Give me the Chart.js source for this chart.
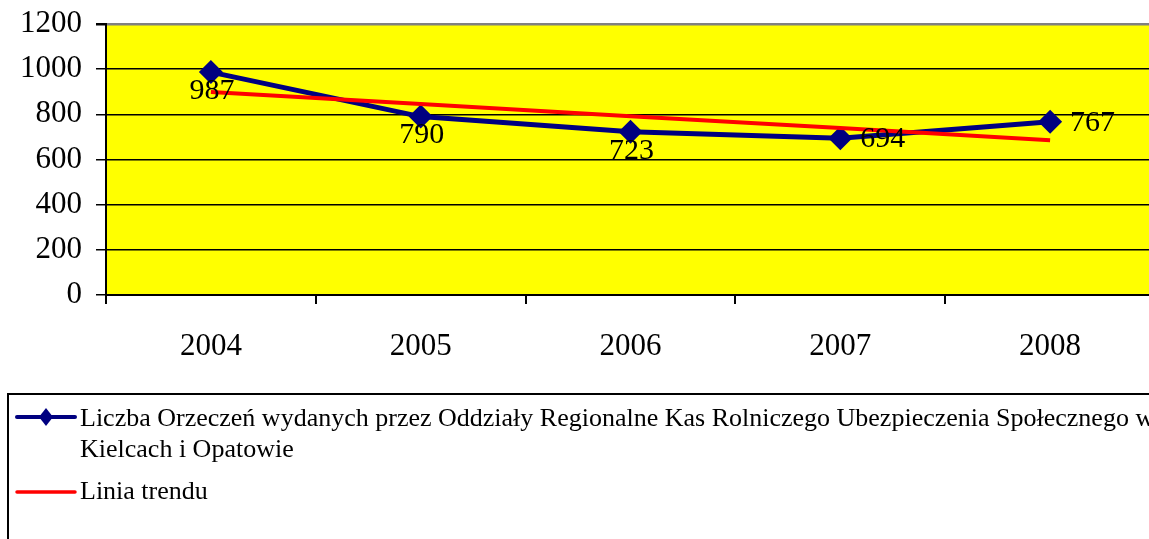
<!DOCTYPE html>
<html>
<head>
<meta charset="utf-8">
<script src="https://cdn.jsdelivr.net/npm/chart.js@4.4.1/dist/chart.umd.min.js"></script>
<style>
html, body { margin: 0; padding: 0; background: #fff; overflow: hidden; }
#wrap { width: 1167px; height: 539px; }
</style>
</head>
<body>
<div id="wrap"><canvas id="chart" width="1167" height="539"></canvas></div>
<script>
'use strict';
// data
var years = ['2004', '2005', '2006', '2007', '2008'];
var orzeczenia = [987, 790, 723, 694, 767];
var trendValues = [899, 846, 792, 739, 685];
var yMin = 0;
var yMax = 1200;
var yStep = 200;
var seriesName = 'Liczba Orzeczeń wydanych przez Oddziały Regionalne Kas Rolniczego Ubezpieczenia Społecznego w Kielcach i Opatowie';
var trendName = 'Linia trendu';
var legendLines = [
  ['Liczba Orzeczeń wydanych przez Oddziały Regionalne Kas Rolniczego Ubezpieczenia Społecznego w', 'Kielcach i Opatowie'],
  ['Linia trendu']
];

var serif = '"Liberation Serif", "Times New Roman", serif';
var navy = '#000080';

// yellow plot area
var plotBg = {
  id: 'plotBg',
  beforeDraw: function (chart) {
    var a = chart.chartArea;
    var ctx = chart.ctx;
    ctx.save();
    ctx.fillStyle = '#ffff00';
    ctx.fillRect(a.left, a.top, a.right - a.left, a.bottom - a.top);
    ctx.restore();
  }
};

// value labels next to the points
var valueLabels = {
  id: 'valueLabels',
  afterDatasetsDraw: function (chart, args, opts) {
    var ctx = chart.ctx;
    var meta = chart.getDatasetMeta(0);
    var values = chart.data.datasets[0].data;
    ctx.save();
    ctx.font = '30px ' + serif;
    ctx.fillStyle = '#000';
    ctx.textBaseline = 'middle';
    meta.data.forEach(function (pt, i) {
      var where = opts.place[i];
      if (where === 'right') {
        ctx.textAlign = 'left';
        ctx.fillText(values[i], pt.x + 20, pt.y + 1);
      } else {
        ctx.textAlign = 'center';
        ctx.fillText(values[i], pt.x + 1, pt.y + 19);
      }
    });
    ctx.restore();
  }
};

// boxed legend under the chart, like the original
var boxLegend = {
  id: 'boxLegend',
  afterDraw: function (chart) {
    var ctx = chart.ctx;
    ctx.save();
    ctx.strokeStyle = '#000';
    ctx.lineWidth = 2;
    ctx.strokeRect(8, 394, 1200, 200);

    ctx.font = '26px ' + serif;
    ctx.fillStyle = '#000';
    ctx.textAlign = 'left';
    ctx.textBaseline = 'alphabetic';
    ctx.fillText(legendLines[0][0], 80, 426);
    ctx.fillText(legendLines[0][1], 80, 457);
    ctx.fillText(legendLines[1][0], 80, 499);

    // navy symbol
    ctx.strokeStyle = navy;
    ctx.lineWidth = 4;
    ctx.lineCap = 'round';
    ctx.beginPath();
    ctx.moveTo(17, 417);
    ctx.lineTo(75, 417);
    ctx.stroke();
    ctx.fillStyle = navy;
    ctx.beginPath();
    ctx.moveTo(46, 408);
    ctx.lineTo(53, 417);
    ctx.lineTo(46, 426);
    ctx.lineTo(39, 417);
    ctx.closePath();
    ctx.fill();

    // red symbol
    ctx.strokeStyle = '#ff0000';
    ctx.lineWidth = 3.5;
    ctx.beginPath();
    ctx.moveTo(17, 492);
    ctx.lineTo(75, 492);
    ctx.stroke();
    ctx.restore();
  }
};

var chart = new Chart(document.getElementById('chart'), {
  type: 'line',
  data: {
    labels: years,
    datasets: [
      {
        label: seriesName,
        data: orzeczenia,
        borderColor: navy,
        backgroundColor: navy,
        borderWidth: 5,
        pointStyle: 'rectRot',
        pointRadius: 12,
        pointBorderWidth: 0,
        tension: 0,
        order: 1
      },
      {
        label: trendName,
        data: trendValues,
        borderColor: '#ff0000',
        borderWidth: 4,
        pointRadius: 0,
        tension: 0,
        order: 0
      }
    ]
  },
  options: {
    responsive: false,
    animation: false,
    layout: { padding: { top: 24, left: 0, right: 5, bottom: 174 } },
    plugins: {
      legend: { display: false },
      tooltip: { enabled: false },
      valueLabels: { place: ['below', 'below', 'below', 'right', 'right'] }
    },
    scales: {
      x: {
        offset: true,
        afterFit: function (scale) {
          scale.height = 70;
          scale.paddingLeft = 0;
          scale.paddingRight = 0;
        },
        grid: {
          offset: true,
          drawOnChartArea: false,
          color: '#000',
          tickColor: '#000',
          tickLength: 9,
          lineWidth: 2
        },
        border: { color: '#000', width: 2 },
        ticks: {
          color: '#000',
          font: { family: serif, size: 31 },
          padding: 24
        }
      },
      y: {
        min: yMin,
        max: yMax,
        afterFit: function (scale) {
          scale.width = 106;
          scale.paddingTop = 0;
          scale.paddingBottom = 0;
        },
        grid: {
          color: function (ctx) { return ctx.tick && ctx.tick.value === yMax ? '#808080' : '#000'; },
          lineWidth: function (ctx) { return ctx.tick && ctx.tick.value === yMax ? 2.5 : 1.5; },
          tickColor: '#000',
          tickLength: 10
        },
        border: { color: '#000', width: 2 },
        ticks: {
          stepSize: yStep,
          color: '#000',
          font: { family: serif, size: 31 },
          padding: 14,
          callback: function (value) { return String(value); }
        }
      }
    }
  },
  plugins: [plotBg, valueLabels, boxLegend]
});
</script>
</body>
</html>
